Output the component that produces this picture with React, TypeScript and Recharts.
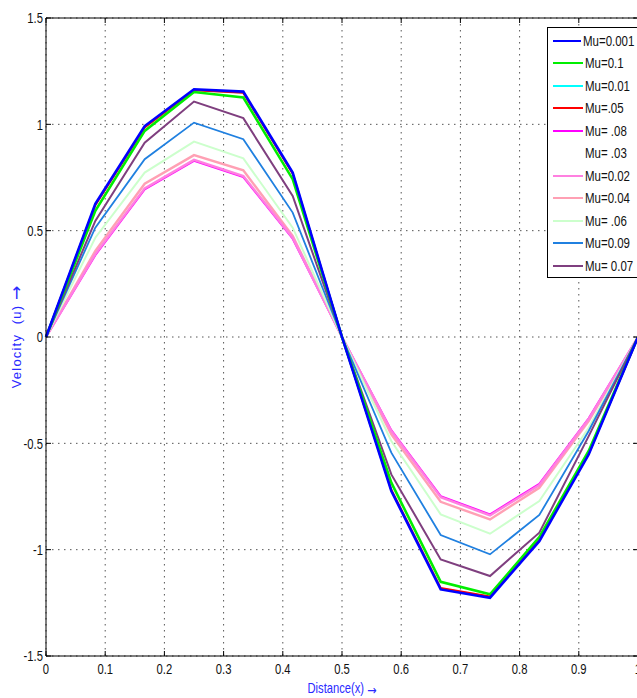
import React from "react";
import { LineChart, Line, XAxis, YAxis, CartesianGrid, Legend } from "recharts";

// distance values (12 equal steps)
const X_POS = [0, 0.0833, 0.1667, 0.25, 0.3333, 0.4167, 0.5, 0.5833, 0.6667, 0.75, 0.8333, 0.9167, 1];
const X_TICKS = [0, 0.1, 0.2, 0.3, 0.4, 0.5, 0.6, 0.7, 0.8, 0.9, 1];
const Y_TICKS = [-1.5, -1, -0.5, 0, 0.5, 1, 1.5];

// velocity
const MU_0001 = [0, 0.626, 0.992, 1.165, 1.154, 0.773, 0, -0.724, -1.187, -1.226, -0.96, -0.552, 0];
const MU_01 = [0, 0.593, 0.969, 1.152, 1.126, 0.742, 0, -0.685, -1.151, -1.21, -0.941, -0.536, 0];
const MU_001 = [0, 0.622, 0.988, 1.162, 1.15, 0.77, 0, -0.72, -1.183, -1.222, -0.956, -0.549, 0];
const MU_005 = [0, 0.62, 0.985, 1.16, 1.148, 0.768, 0, -0.718, -1.18, -1.22, -0.954, -0.548, 0];
const MU_008 = [0, 0.385, 0.694, 0.828, 0.752, 0.462, 0, -0.438, -0.748, -0.834, -0.691, -0.382, 0];
const MU_003 = [0, 0.398, 0.71, 0.844, 0.77, 0.471, 0, -0.45, -0.764, -0.848, -0.702, -0.39, 0];
const MU_002 = [0, 0.39, 0.699, 0.833, 0.757, 0.467, 0, -0.442, -0.753, -0.839, -0.696, -0.386, 0];
const MU_004 = [0, 0.405, 0.721, 0.855, 0.784, 0.475, 0, -0.458, -0.775, -0.858, -0.709, -0.395, 0];
const MU_006 = [0, 0.467, 0.773, 0.919, 0.84, 0.514, 0, -0.489, -0.834, -0.925, -0.771, -0.427, 0];
const MU_009 = [0, 0.514, 0.836, 1.008, 0.93, 0.585, 0, -0.544, -0.931, -1.022, -0.837, -0.442, 0];
const MU_007 = [0, 0.546, 0.914, 1.107, 1.029, 0.663, 0, -0.646, -1.046, -1.124, -0.92, -0.466, 0];

// legend order
const SERIES = [
  { key: "mu0001", name: "Mu=0.001", color: "#0000ff", width: 2.6, values: MU_0001 },
  { key: "mu01", name: "Mu=0.1", color: "#00ee00", width: 2.6, values: MU_01 },
  { key: "mu001", name: "Mu=0.01", color: "#00ffff", width: 2, values: MU_001 },
  { key: "mu005", name: "Mu=.05", color: "#ff0000", width: 2, values: MU_005 },
  { key: "mu008", name: "Mu= .08", color: "#ff00ff", width: 2, values: MU_008 },
  { key: "mu003", name: "Mu= .03", color: "#ffffff", width: 2, values: MU_003 },
  { key: "mu002", name: "Mu=0.02", color: "#ff80e0", width: 2.4, values: MU_002 },
  { key: "mu004", name: "Mu=0.04", color: "#ffa0b4", width: 2.4, values: MU_004 },
  { key: "mu006", name: "Mu= .06", color: "#ccffcc", width: 2, values: MU_006 },
  { key: "mu009", name: "Mu=0.09", color: "#2080e0", width: 1.8, values: MU_009 },
  { key: "mu007", name: "Mu= 0.07", color: "#7f3f7f", width: 2, values: MU_007 },
];

// bottom first, top last
const DRAW_ORDER = ["mu003", "mu001", "mu005", "mu008", "mu004", "mu002", "mu006", "mu009", "mu007", "mu01", "mu0001"];

const data = X_POS.map((x, i) => {
  const row: any = { x };
  SERIES.forEach((s) => (row[s.key] = s.values[i]));
  return row;
});

const FONT = "'Liberation Sans Narrow', 'Liberation Sans', Arial, sans-serif";

function XTick({ x, y, payload }: any) {
  const axisY = y - 7;
  return (
    <g>
      <line x1={x} x2={x} y1={axisY} y2={axisY - 5} stroke="#000" />
      <text
        x={x}
        y={y}
        dy="0.71em"
        textAnchor="middle"
        fontSize={15}
        fontFamily={FONT}
        fill="#111"
        transform={`translate(${x} 0) scale(0.75 1) translate(${-x} 0)`}
      >
        {payload.value}
      </text>
    </g>
  );
}

function YTick({ x, y, payload }: any) {
  const axisX = x + 3;
  return (
    <g>
      <line x1={axisX} x2={axisX + 5} y1={y} y2={y} stroke="#000" />
      <text
        x={x}
        y={y}
        dy="0.355em"
        textAnchor="end"
        fontSize={15}
        fontFamily={FONT}
        fill="#111"
        transform={`translate(${x} 0) scale(0.75 1) translate(${-x} 0)`}
      >
        {payload.value}
      </text>
    </g>
  );
}

// inward tick marks on the top and right edges
const TopTick = ({ x, y }: any) => <line x1={x} x2={x} y1={y} y2={y + 5} stroke="#000" />;
const RightTick = ({ x, y }: any) => <line x1={x} x2={x - 5} y1={y} y2={y} stroke="#000" />;

function YLabel({ viewBox }: any) {
  const cx = viewBox.x + 16;
  const cy = viewBox.y + viewBox.height / 2;
  return (
    <text
      x={cx}
      y={cy}
      transform={`rotate(-90 ${cx} ${cy})`}
      textAnchor="middle"
      dominantBaseline="central"
      fontSize={13}
      letterSpacing={1.2}
      fontFamily="'Liberation Sans', Arial, sans-serif"
      fill="#2a2aff"
      style={{ whiteSpace: "pre" }}
    >
      {"Velocity  (u) "}
      <tspan fontSize={17} fontFamily="'DejaVu Sans', sans-serif" letterSpacing={0}>→</tspan>
    </text>
  );
}

function XLabel({ viewBox }: any) {
  const cx = viewBox.x + viewBox.width / 2;
  const cy = viewBox.y + 33;
  return (
    <text
      x={cx}
      y={cy}
      textAnchor="middle"
      dominantBaseline="central"
      fontSize={14}
      fontFamily={FONT}
      fill="#2a2aff"
      transform={`translate(${cx} 0) scale(0.8 1) translate(${-cx} 0)`}
    >
      {"Distance(x) "}
      <tspan fontSize={14} fontFamily="'DejaVu Sans', sans-serif">→</tspan>
    </text>
  );
}

function MuLegend() {
  return (
    <div
      style={{
        border: "1px solid #000",
        background: "#fff",
        width: 100,
        height: 251,
        boxSizing: "border-box",
        paddingTop: 1.5,
        fontFamily: FONT,
      }}
    >
      {SERIES.map((s) => (
        <div key={s.key} style={{ display: "flex", alignItems: "center", height: 22.5 }}>
          <span style={{ display: "inline-block", width: 30, marginLeft: 5, borderTop: `2.5px solid ${s.color}` }} />
          <span
            style={{
              display: "inline-block",
              marginLeft: 2,
              fontSize: 14,
              color: "#111",
              whiteSpace: "pre",
              transform: "scaleX(0.82)",
              transformOrigin: "left center",
            }}
          >
            {s.name}
          </span>
        </div>
      ))}
    </div>
  );
}

export default function App() {
  const byKey: any = {};
  SERIES.forEach((s) => (byKey[s.key] = s));

  return (
    <div style={{ position: "absolute", left: 0, top: 0, width: 637, height: 698, overflow: "hidden", background: "#fff" }}>
      <LineChart width={638} height={698} data={data} margin={{ top: 18, right: 0, bottom: 0, left: 0 }}>
        <CartesianGrid stroke="#555" strokeDasharray="1.5 4.5" />
        <XAxis
          dataKey="x"
          type="number"
          domain={[0, 1]}
          ticks={X_TICKS}
          interval={0}
          height={42}
          tickSize={0}
          tickMargin={7}
          tickLine={false}
          tick={<XTick />}
          axisLine={{ stroke: "#000" }}
          label={<XLabel />}
        />
        <XAxis
          xAxisId="top"
          dataKey="x"
          orientation="top"
          mirror
          type="number"
          domain={[0, 1]}
          allowDataOverflow
          ticks={X_TICKS}
          interval={0}
          tickSize={0}
          tickMargin={0}
          tickLine={false}
          tick={<TopTick />}
          stroke="#000"
        />
        <YAxis
          type="number"
          domain={[-1.5, 1.5]}
          ticks={Y_TICKS}
          interval={0}
          width={46}
          tickSize={0}
          tickMargin={3}
          tickLine={false}
          tick={<YTick />}
          axisLine={{ stroke: "#000" }}
          label={<YLabel />}
        />
        <YAxis
          yAxisId="right"
          orientation="right"
          mirror
          type="number"
          domain={[-1.5, 1.5]}
          allowDataOverflow
          ticks={Y_TICKS}
          interval={0}
          width={1}
          tickSize={0}
          tickMargin={0}
          tickLine={false}
          tick={<RightTick />}
          stroke="#000"
        />
        <Legend
          layout="vertical"
          align="center"
          verticalAlign="middle"
          wrapperStyle={{ left: 547, top: 27, width: 100 }}
          content={() => <MuLegend />}
        />
        {DRAW_ORDER.map((k) => (
          <Line
            key={k}
            type="linear"
            dataKey={k}
            name={byKey[k].name}
            stroke={byKey[k].color}
            strokeWidth={byKey[k].width}
            dot={false}
            activeDot={false}
            isAnimationActive={false}
          />
        ))}
      </LineChart>
    </div>
  );
}
